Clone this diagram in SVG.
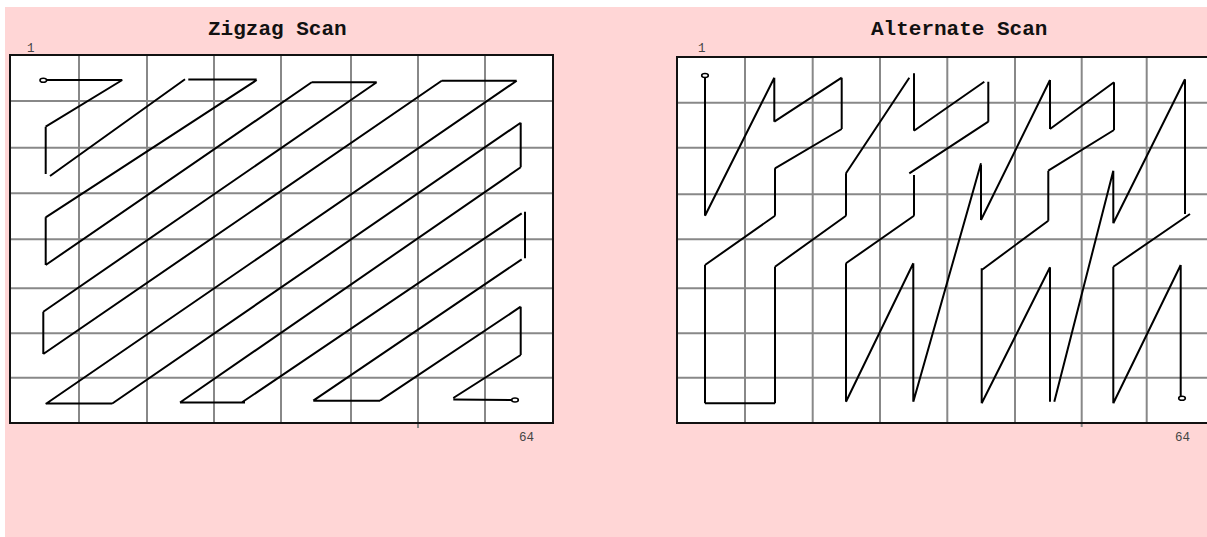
<svg xmlns="http://www.w3.org/2000/svg" width="1207" height="537" viewBox="0 0 1207 537">
<style>
.bg{fill:#FFD6D6}
.box{fill:#FFFFFF;stroke:none}
.border{fill:none;stroke:#111;stroke-width:2}
.grid{stroke:#888;stroke-width:2;fill:none}
.scan{stroke:#000;stroke-width:2;fill:none;stroke-linecap:butt;stroke-linejoin:miter}
.end{fill:#fff;stroke:#000;stroke-width:1.6}
.title{font-family:"Liberation Mono","DejaVu Sans Mono",monospace;font-weight:bold;font-size:21px;fill:#111}
.idx{font-family:"Liberation Mono","DejaVu Sans Mono",monospace;font-size:12.5px;fill:#444}
</style>
<rect class="bg" x="5" y="7" width="1210" height="535"/>

<g id="zigzag">
  <text class="title" x="208" y="35">Zigzag Scan</text>
  <text class="idx" x="27" y="52">1</text>
  <text class="idx" x="519" y="441">64</text>
  <rect class="box" x="10" y="55" width="543" height="368"/>
  <g class="grid">
    <line x1="79" y1="55" x2="79" y2="423"/>
    <line x1="147" y1="55" x2="147" y2="423"/>
    <line x1="214" y1="55" x2="214" y2="423"/>
    <line x1="281" y1="55" x2="281" y2="423"/>
    <line x1="351" y1="55" x2="351" y2="423"/>
    <line x1="418" y1="55" x2="418" y2="428"/>
    <line x1="485" y1="55" x2="485" y2="423"/>
    <line x1="10" y1="101" x2="553" y2="101"/>
    <line x1="10" y1="147.7" x2="553" y2="147.7"/>
    <line x1="10" y1="193.3" x2="553" y2="193.3"/>
    <line x1="10" y1="239.3" x2="553" y2="239.3"/>
    <line x1="10" y1="288.3" x2="553" y2="288.3"/>
    <line x1="10" y1="333.3" x2="553" y2="333.3"/>
    <line x1="10" y1="377.7" x2="553" y2="377.7"/>
  </g>
  <rect class="border" x="10" y="55" width="543" height="368"/>
</g>

<g id="alternate">
  <text class="title" x="871" y="35">Alternate Scan</text>
  <text class="idx" x="698" y="52">1</text>
  <text class="idx" x="1175" y="441">64</text>
  <rect class="box" x="677" y="57" width="545" height="366"/>
  <g class="grid">
    <line x1="745" y1="57" x2="745" y2="423"/>
    <line x1="812.7" y1="57" x2="812.7" y2="423"/>
    <line x1="880" y1="57" x2="880" y2="423"/>
    <line x1="947.3" y1="57" x2="947.3" y2="423"/>
    <line x1="1015" y1="57" x2="1015" y2="423"/>
    <line x1="1081.7" y1="57" x2="1081.7" y2="427"/>
    <line x1="1146.7" y1="57" x2="1146.7" y2="423"/>
    <line x1="677" y1="102.7" x2="1222" y2="102.7"/>
    <line x1="677" y1="147.7" x2="1222" y2="147.7"/>
    <line x1="677" y1="194.3" x2="1222" y2="194.3"/>
    <line x1="677" y1="239.3" x2="1222" y2="239.3"/>
    <line x1="677" y1="288.3" x2="1222" y2="288.3"/>
    <line x1="677" y1="333.3" x2="1222" y2="333.3"/>
    <line x1="677" y1="377.7" x2="1222" y2="377.7"/>
  </g>
  <rect class="border" x="677" y="57" width="545" height="366"/>
</g>

<g id="connectors">
  <path id="zigzag-path" class="scan" d="M43.3,80 L122.3,80 M122.3,80 L45.7,126.7 M45.7,126.7 L45.7,174 M50,176 L185,79.3 M188.3,79.5 L256.7,79.5 M256.7,80 L45.7,217.3 M45.7,217.3 L45.7,265 M45.7,265 L311.7,82.3 M311.7,82.3 L376.7,82.3 M376.7,82.3 L43.3,311.7 M43.3,311.7 L43.3,354 M43.3,354 L441.7,80.7 M441.7,80.7 L516.7,80.7 M516.7,80.7 L45.7,404 M45.7,403.5 L112.3,403.5 M112.3,403.5 L520.7,122.7 M520.7,122.7 L520.7,167.3 M520.7,167.3 L180,402.5 M180,402.5 L245,402.5 M241.7,402.5 L521.7,213.3 M525,211.7 L525,258.3 M521.7,259.3 L313.3,400.7 M313.3,400.7 L380,400.7 M380,400.7 L520.7,306.7 M520.7,306.7 L520.7,355 M520.7,355 L453.3,398 M453.3,399.5 L515,400"/>
  <path id="alternate-path" class="scan" d="M705,76 L705,215.7 M705,215.7 L774.3,77.7 M774.3,77.7 L774.3,121.7 M774.3,121.7 L841.7,77.7 M841.7,77.7 L841.7,129 M841.7,129 L775,168.3 M775,168.3 L775,215.7 M775,215.7 L705,265 M705,265 L705,403.3 M705,403.3 L775,403.3 M775,403.3 L775,266.7 M775,266.7 L846,215.7 M846,215.7 L846,173.3 M846,173.3 L909.3,77.7 M914,73.3 L914,130.7 M914,130.7 L984.3,81.7 M988.3,81.7 L988.3,121.7 M988.3,121.7 L909.3,173.3 M914,175 L914,215.7 M914,215.7 L846,263.3 M846,263.3 L846,401.7 M846,401.7 L913.3,263.3 M913.3,263.3 L913.3,401.7 M913.3,401.7 L981,163.3 M981,165 L981,220 M981,220 L1050,80 M1050,80 L1050,129 M1050,129 L1114,82.3 M1114,82.3 L1114,130 M1114,130 L1048.3,170.7 M1048.3,170.7 L1048.3,220.7 M1048.3,220.7 L981.7,270 M981.7,268.3 L981.7,403.3 M981.7,403.3 L1050,267.3 M1050,267.3 L1050,401.7 M1054.3,401.7 L1113.3,170.7 M1113.3,170.7 L1113.3,223.3 M1113.3,223.3 L1185,79.3 M1185,79.3 L1185,214 M1190,214 L1113.3,266.7 M1113.3,266.7 L1113.3,403.3 M1113.3,403.3 L1180.7,265 M1180.7,265 L1180.7,396.7"/>
  <ellipse class="end" cx="43.3" cy="80.3" rx="3.3" ry="2"/>
  <ellipse class="end" cx="515" cy="400" rx="3.3" ry="2"/>
  <ellipse class="end" cx="705" cy="75.5" rx="3.3" ry="2"/>
  <ellipse class="end" cx="1182" cy="398.3" rx="3.3" ry="2"/>
</g>
</svg>
